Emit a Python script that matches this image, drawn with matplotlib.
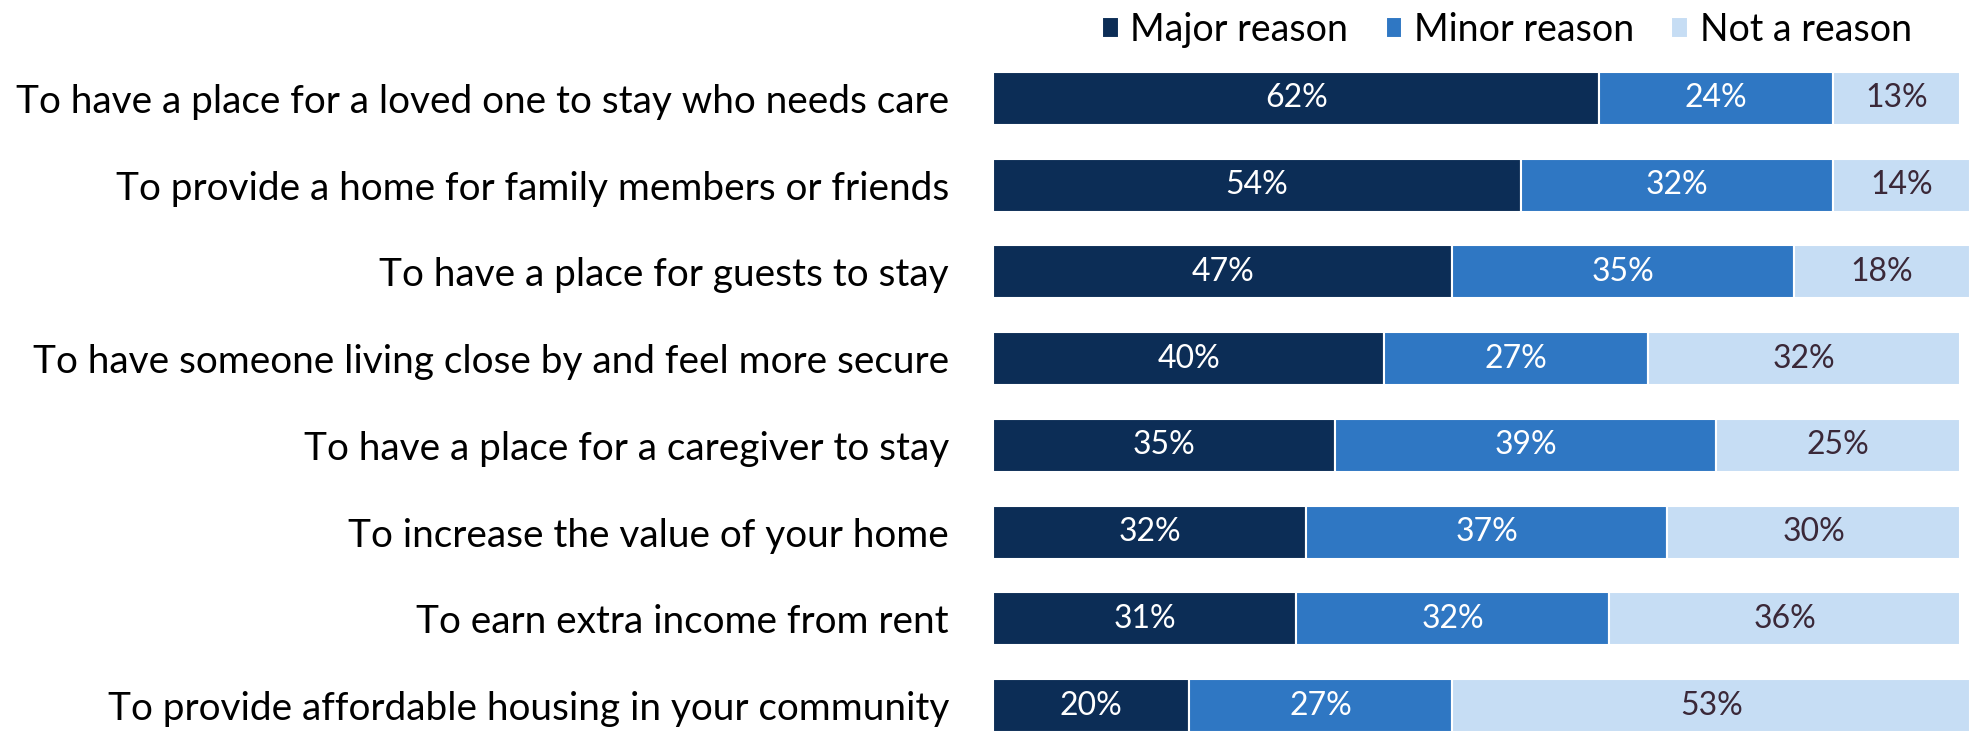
import matplotlib.pyplot as plt

# Data
reasons = [
    "To have a place for a loved one to stay who needs care",
    "To provide a home for family members or friends",
    "To have a place for guests to stay",
    "To have someone living close by and feel more secure",
    "To have a place for a caregiver to stay",
    "To increase the value of your home",
    "To earn extra income from rent",
    "To provide affordable housing in your community",
]
major = [62, 54, 47, 40, 35, 32, 31, 20]
minor = [24, 32, 35, 27, 39, 37, 32, 27]
not_reason = [13, 14, 18, 32, 25, 30, 36, 53]

series_names = ["Major reason", "Minor reason", "Not a reason"]
colors = ["#0c2d56", "#2f77c3", "#c6ddf4"]
text_colors = ["white", "white", "#3a2838"]

plt.rcParams['font.family'] = ['Lato', 'DejaVu Sans']

fig = plt.figure(figsize=(19.75, 7.32), dpi=100)
ax = fig.add_axes([0.503, 0.0, 0.4945, 0.9016])

y = list(range(len(reasons)))
left = [0] * len(reasons)
for vals, name, col, tcol in zip([major, minor, not_reason], series_names, colors, text_colors):
    ax.barh(y, vals, left=left, height=0.61, color=col, edgecolor="white",
            linewidth=1.5, label=name)
    for yi, v, l in zip(y, vals, left):
        ax.text(l + v / 2, yi, f"{v}%", ha="center", va="center",
                color=tcol, fontsize=23)
    left = [a + b for a, b in zip(left, vals)]

ax.set_xlim(0, 100)
ax.set_ylim(7.305, -0.305)
ax.set_yticks(y)
ax.set_yticklabels(reasons, fontsize=27.9)
ax.tick_params(axis="y", length=0, pad=32)
ax.set_xticks([])
for s in ax.spines.values():
    s.set_visible(False)

fig.legend(loc="upper right", bbox_to_anchor=(0.985, 1.03), ncol=3, frameon=False,
           fontsize=27, handlelength=0.45, handleheight=0.45, handletextpad=0.3,
           columnspacing=1.0)

fig.savefig("out.png", dpi=100)
